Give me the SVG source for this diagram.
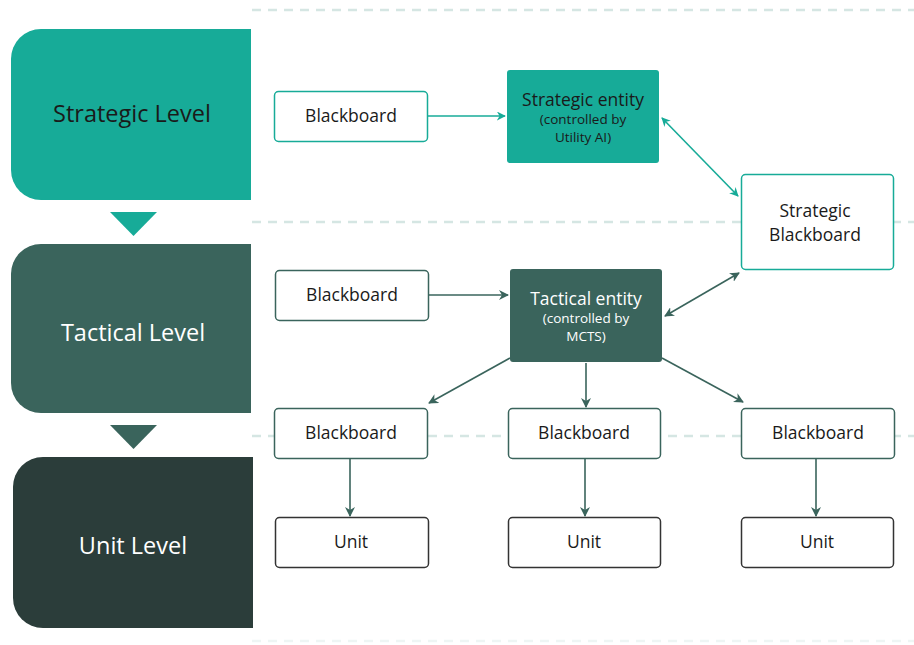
<svg xmlns="http://www.w3.org/2000/svg" width="914" height="645" viewBox="0 0 914 645">
<defs>
<style>
text{font-family:"Open Sans","Liberation Sans",sans-serif;text-anchor:middle;dominant-baseline:central}
.lvl{font-size:23.5px}
.bb{font-size:17.5px;fill:#1a1a1a}
.ent{font-size:17.5px}
.sub{font-size:13.5px}
.dash{stroke:#d5e6e3;stroke-width:2.5;stroke-dasharray:9 7;fill:none}
.boxT{fill:#fff;stroke:#17ab98;stroke-width:1.5}
.boxD{fill:#fff;stroke:#3a645c;stroke-width:1.5}
.boxK{fill:#fff;stroke:#333;stroke-width:1.5}
.cT{stroke:#17ab98;stroke-width:1.6;fill:none}
.cD{stroke:#3a645c;stroke-width:1.6;fill:none}
</style>
<marker id="aT" viewBox="0 0 10 10" refX="9" refY="5" markerWidth="9" markerHeight="9" markerUnits="userSpaceOnUse" orient="auto-start-reverse"><path d="M0,0 L10,5 L0,10 L3,5 Z" fill="#17ab98"/></marker>
<marker id="aD" viewBox="0 0 10 10" refX="9" refY="5" markerWidth="10" markerHeight="10" markerUnits="userSpaceOnUse" orient="auto-start-reverse"><path d="M0,0 L10,5 L0,10 L3,5 Z" fill="#3a645c"/></marker>
</defs>
<rect width="914" height="645" fill="#fff"/>
<g id="guides">
<line class="dash" x1="252" y1="10" x2="914" y2="10"/>
<line class="dash" x1="252" y1="222" x2="914" y2="222"/>
<line class="dash" x1="252" y1="436" x2="914" y2="436"/>
<line class="dash" x1="252" y1="641" x2="914" y2="641" stroke-opacity="0.4"/>
</g>
<g id="strategic-level">
<path d="M41,29 H251 V200 H41 A30,30 0 0 1 11,170 V59 A30,30 0 0 1 41,29 Z" fill="#17ab98"/>
<text class="lvl" x="132" y="113" fill="#1a1a1a">Strategic Level</text>
<polygon points="110,212 157,212 133.5,236" fill="#17ab98"/>
</g>
<g id="tactical-level">
<path d="M41,244 H251 V413 H41 A30,30 0 0 1 11,383 V274 A30,30 0 0 1 41,244 Z" fill="#3a645c"/>
<text class="lvl" x="133" y="332" fill="#fff">Tactical Level</text>
<polygon points="110,425 157,425 133.5,449" fill="#3a645c"/>
</g>
<g id="unit-level">
<path d="M43,457 H253 V628 H43 A30,30 0 0 1 13,598 V487 A30,30 0 0 1 43,457 Z" fill="#2b3d3a"/>
<text class="lvl" x="133" y="545" fill="#fff">Unit Level</text>
</g>
<g id="connectors">
<line class="cT" x1="428" y1="116" x2="505" y2="116" marker-end="url(#aT)"/>
<line class="cT" x1="662" y1="118" x2="738" y2="196" marker-start="url(#aT)" marker-end="url(#aT)"/>
<line class="cD" x1="429" y1="295" x2="508" y2="295" marker-end="url(#aD)"/>
<line class="cD" x1="665" y1="316" x2="739" y2="273" marker-start="url(#aD)" marker-end="url(#aD)"/>
<line class="cD" x1="510" y1="358" x2="429" y2="403" marker-end="url(#aD)"/>
<line class="cD" x1="586" y1="363" x2="586" y2="407" marker-end="url(#aD)"/>
<line class="cD" x1="662" y1="358" x2="743" y2="402" marker-end="url(#aD)"/>
<line class="cD" x1="350" y1="459" x2="350" y2="516" marker-end="url(#aD)"/>
<line class="cD" x1="585" y1="459" x2="585" y2="516" marker-end="url(#aD)"/>
<line class="cD" x1="816" y1="459" x2="816" y2="516" marker-end="url(#aD)"/>
</g>
<g id="strategic-blackboard-local">
<rect class="boxT" x="274.5" y="91.5" width="153" height="50" rx="4"/>
<text class="bb" x="351" y="115">Blackboard</text>
</g>
<g id="strategic-entity">
<rect x="507" y="70" width="152" height="93" rx="3" fill="#17ab98"/>
<text class="ent" x="583" y="99" fill="#1a1a1a">Strategic entity</text>
<text class="sub" x="583" y="119" fill="#1a1a1a">(controlled by</text>
<text class="sub" x="583" y="137" fill="#1a1a1a">Utility AI)</text>
</g>
<g id="strategic-blackboard">
<rect class="boxT" x="741.5" y="174.5" width="152" height="95" rx="4"/>
<text class="bb" x="815" y="210">Strategic</text>
<text class="bb" x="815" y="234">Blackboard</text>
</g>
<g id="tactical-blackboard">
<rect class="boxD" x="275.5" y="270.5" width="153" height="50" rx="4"/>
<text class="bb" x="352" y="294">Blackboard</text>
</g>
<g id="tactical-entity">
<rect x="510" y="269" width="152" height="93" rx="3" fill="#3a645c"/>
<text class="ent" x="586" y="298" fill="#fff">Tactical entity</text>
<text class="sub" x="586" y="318" fill="#fff">(controlled by</text>
<text class="sub" x="586" y="336" fill="#fff">MCTS)</text>
</g>
<g id="blackboard-1">
<rect class="boxD" x="274.5" y="408.5" width="153" height="50" rx="4"/>
<text class="bb" x="351" y="432">Blackboard</text>
</g>
<g id="blackboard-2">
<rect class="boxD" x="508.5" y="408.5" width="152" height="50" rx="4"/>
<text class="bb" x="584" y="432">Blackboard</text>
</g>
<g id="blackboard-3">
<rect class="boxD" x="741.5" y="408.5" width="153" height="50" rx="4"/>
<text class="bb" x="818" y="432">Blackboard</text>
</g>
<g id="unit-1">
<rect class="boxK" x="275.5" y="517.5" width="153" height="50" rx="4"/>
<text class="bb" x="351" y="541">Unit</text>
</g>
<g id="unit-2">
<rect class="boxK" x="508.5" y="517.5" width="152" height="50" rx="4"/>
<text class="bb" x="584" y="541">Unit</text>
</g>
<g id="unit-3">
<rect class="boxK" x="741.5" y="517.5" width="152" height="50" rx="4"/>
<text class="bb" x="817" y="541">Unit</text>
</g>
</svg>
